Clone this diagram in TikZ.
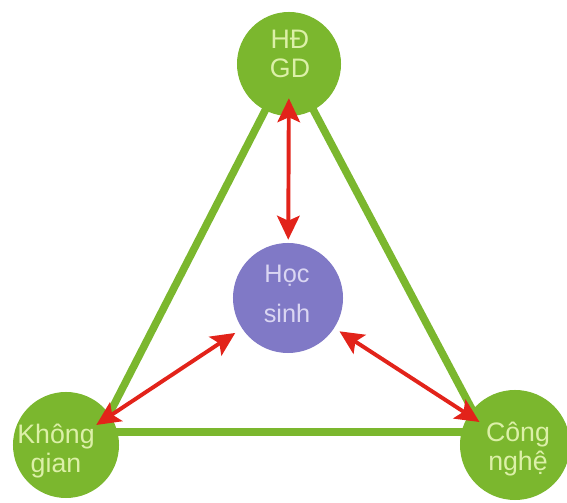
\documentclass[tikz,border=0pt]{standalone}
\usepackage{fontspec}
\setmainfont{Liberation Sans}
\usetikzlibrary{arrows.meta}
\definecolor{leafgreen}{HTML}{7BB72E}
\definecolor{pupil}{HTML}{8079C6}
\definecolor{linkred}{HTML}{E2231A}
\definecolor{paletext}{HTML}{DCF0A8}
\definecolor{lilac}{HTML}{DAD6F2}

\begin{document}
\begin{tikzpicture}[x=0.025cm, y=-0.025cm,
    hub/.style={circle, fill=leafgreen, inner sep=0pt},
    hubtext/.style={align=center, text=paletext, font=\fontsize{19}{20}\selectfont},
    side/.style={draw=leafgreen, line width=5.4pt},
    link/.style={draw=linkred, line width=2.8pt,
      {Stealth[length=17pt,width=16pt,inset=3.5pt]}-{Stealth[length=17pt,width=16pt,inset=3.5pt]}}]

        \useasboundingbox (0,0) rectangle (567,503);

        %Circles
        \node [hub, minimum size=2.6cm] (hd) at (289,64) {};
        \node [hub, fill=pupil, minimum size=2.75cm] (hs) at (288,298) {};
        \node [hub, minimum size=2.65cm] (kg) at (66,445) {};
        \node [hub, minimum size=2.75cm] (cn) at (515,445) {};

        %Triangle
        \coordinate (kgv) at (100,432);
        \coordinate (cnv) at (484,432);
        \draw [side] (hd.center) -- (kgv) -- (cnv) -- cycle;

        %Labels
        \node [hubtext, font=\fontsize{19}{20.5}\selectfont] (hdt) at (290,54) {HĐ\\GD};
        \node [hubtext, text=lilac, font=\fontsize{18}{28}\selectfont] (hst) at (287,294) {Học\\sinh};
        \node [hubtext] (kgt) at (56,451) {Không\\gian};
        \node [hubtext] (cnt) at (518,449) {Công\\nghệ};

        %Arrows
        \draw [link, shorten <=0.075cm, shorten >=-0.45cm] (hs) -- (hd);
        \draw [link, shorten <=0.2cm, shorten >=-0.425cm] (hs) -- (kg);
        \draw [link, shorten <=0.15cm, shorten >=-0.325cm] (hs) -- (cn);

\end{tikzpicture}
\end{document}
